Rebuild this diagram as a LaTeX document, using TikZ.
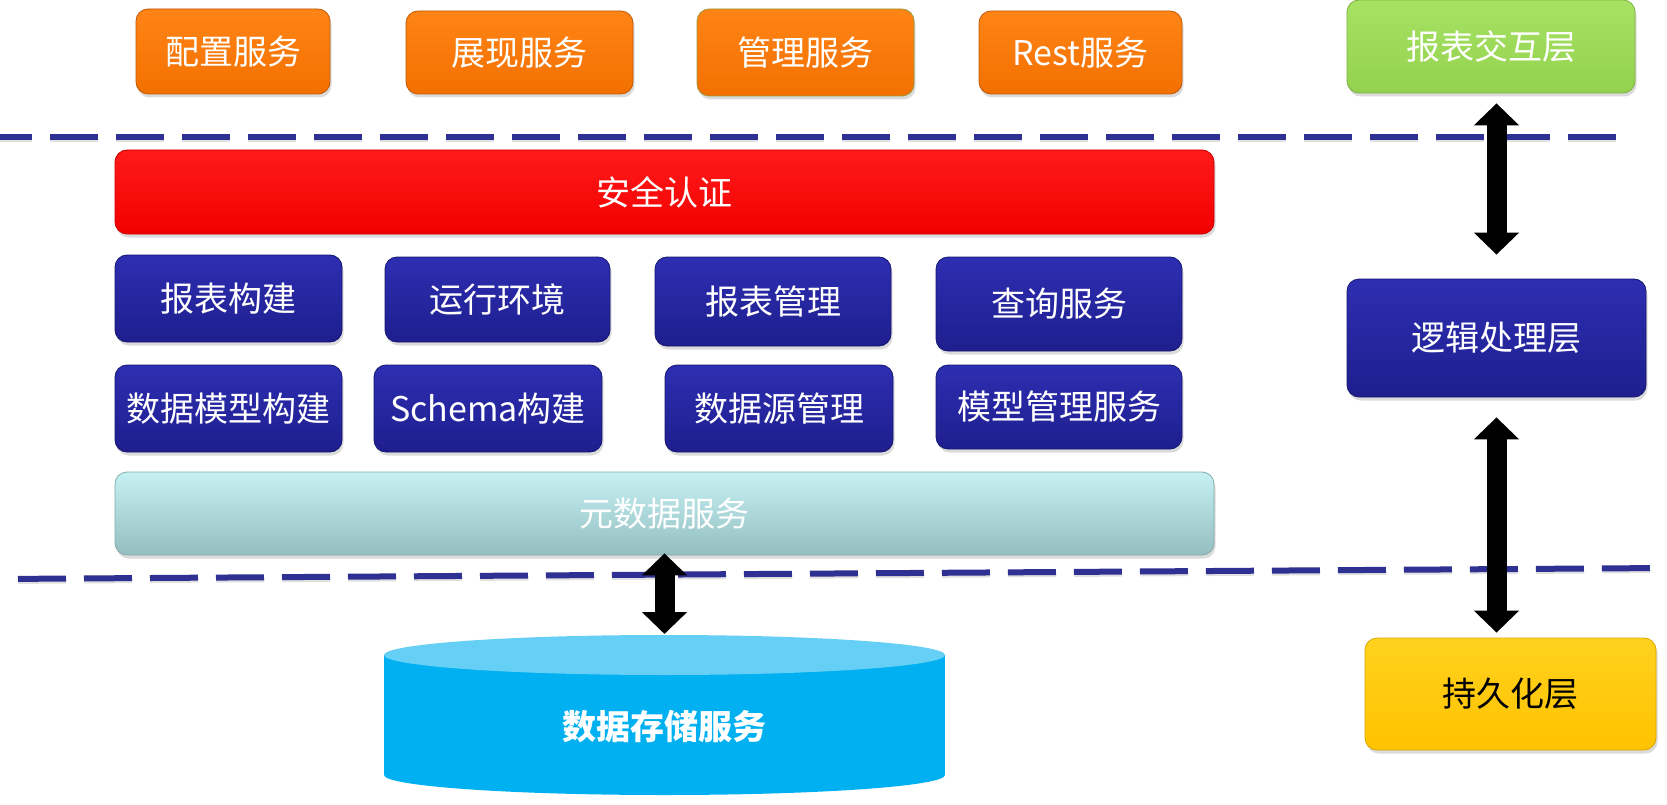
\documentclass[tikz,border=0pt]{standalone}
\usepackage{fontspec}
\setmainfont{Noto Sans CJK SC}
\usetikzlibrary{shadows,arrows.meta,calc}

\definecolor{orgT}{HTML}{FF8416}
\definecolor{orgB}{HTML}{F27000}
\definecolor{orgD}{HTML}{C05A08}
\definecolor{olvD}{HTML}{9C9A38}
\definecolor{redT}{HTML}{FF1A1A}
\definecolor{redB}{HTML}{F20000}
\definecolor{redD}{HTML}{C80000}
\definecolor{bluT}{HTML}{2E2EB2}
\definecolor{bluB}{HTML}{1E1E8E}
\definecolor{bluD}{HTML}{161670}
\definecolor{grnT}{HTML}{A8E264}
\definecolor{grnB}{HTML}{92D24E}
\definecolor{grnD}{HTML}{7BB23E}
\definecolor{cyaT}{HTML}{C6F1F4}
\definecolor{cyaB}{HTML}{94BEC0}
\definecolor{cyaD}{HTML}{84AAAC}
\definecolor{ylwT}{HTML}{FFD21E}
\definecolor{ylwB}{HTML}{FFC200}
\definecolor{ylwD}{HTML}{D8A600}
\definecolor{sepC}{HTML}{2E3192}
\definecolor{dbBody}{HTML}{00B0F0}
\definecolor{dbTop}{HTML}{66CFF5}

\tikzset{
  sz/.style 2 args={minimum width=#1pt, minimum height=#2pt},
  box/.style={rounded corners=12pt, draw, line width=0.8pt, text=white, inner sep=0pt,
    font=\fontsize{34}{40}\selectfont,
    drop shadow={shadow xshift=1.5pt, shadow yshift=-3.5pt, opacity=0.28}},
  orangebox/.style={box, top color=orgT, bottom color=orgB, draw=orgD},
  redbox/.style={box, top color=redT, bottom color=redB, draw=redD},
  bluebox/.style={box, top color=bluT, bottom color=bluB, draw=bluD},
  greenbox/.style={box, top color=grnT, bottom color=grnB, draw=grnD},
  cyanbox/.style={box, top color=cyaT, bottom color=cyaB, draw=cyaD},
  yellowbox/.style={box, top color=ylwT, bottom color=ylwB, draw=ylwD, text=black},
  sepline/.style={draw=sepC, line width=6pt, dash pattern=on 48pt off 18pt},
  sepshade/.style={draw=black, opacity=0.12, line width=6pt, dash pattern=on 48pt off 18pt},
  dblarrow/.style={line width=20pt, draw=black,
    {Triangle[length=22pt,width=44pt]}-{Triangle[length=22pt,width=44pt]}},
}

\begin{document}
\begin{tikzpicture}[x=1pt,y=-1pt]
\useasboundingbox[fill=white] (0,0) rectangle (1667,805);

% layer separators, each with a faint shadow just below
\coordinate (s1a) at (0,137);
\coordinate (s1b) at (1616,137);
\coordinate (s2a) at (0,579);
\coordinate (s2b) at (1667,568);
\draw[sepshade, dash phase=16pt] ([yshift=-2pt]s1a) -- ([yshift=-2pt]s1b);
\draw[sepshade, dash phase=48pt] ([yshift=-2pt]s2a) -- ([yshift=-2pt]s2b);
\draw[sepline, dash phase=16pt] (s1a) -- (s1b);
\draw[sepline, dash phase=48pt] (s2a) -- (s2b);

% service row
\node[orangebox, sz={194}{85}] (c1) at (233,51.5) {配置服务};
\node[orangebox, sz={227}{83}] (c2) at (519.5,52.5) {展现服务};
\node[orangebox, draw=olvD, sz={217}{87}] (c3) at (805.5,52.5) {管理服务};
\node[orangebox, sz={203}{83}] (c4) at (1080.5,52.5) {Rest服务};

% security
\node[redbox, sz={1099}{84}] (sec) at (664.5,192) {安全认证};

% logic modules
\node[bluebox, sz={227}{87}] (b11) at (228.5,298.5) {报表构建};
\node[bluebox, sz={225}{85}] (b12) at (497.5,299.5) {运行环境};
\node[bluebox, sz={236}{89}] (b13) at (773,301.5) {报表管理};
\node[bluebox, sz={246}{94}] (b14) at (1059,304) {查询服务};
\node[bluebox, sz={227}{87}] (b21) at (228.5,408.5) {数据模型构建};
\node[bluebox, sz={228}{87}] (b22) at (488,408.5) {Schema构建};
\node[bluebox, sz={228}{87}] (b23) at (779,408.5) {数据源管理};
\node[bluebox, sz={246}{84}] (b24) at (1059,407) {模型管理服务};

% metadata
\node[cyanbox, sz={1099}{83}] (meta) at (664.5,513.5) {元数据服务};

% data store cylinder
\fill[dbBody] (384,655) rectangle (945,775);
\fill[dbBody] (664.5,775) ellipse [x radius=280.5pt, y radius=20pt];
\fill[dbTop] (664.5,655) ellipse [x radius=280.5pt, y radius=20pt];
\coordinate (dbtop) at (664.5,634);
\node[text=white, font=\fontsize{34}{40}\selectfont\bfseries] (db) at (664.5,727) {数据存储服务};

% layer legend
\node[greenbox, sz={288}{93}] (l1) at (1491,46.5) {报表交互层};
\node[bluebox, sz={299}{118}] (l2) at (1496.5,338) {逻辑处理层};
\node[yellowbox, sz={291}{112}] (l3) at (1510.5,694) {持久化层};

% connectors
\draw[dblarrow, shorten <=-2pt] (meta.south) -- (dbtop);
\draw[dblarrow, shorten <=10pt, shorten >=24pt] (l1.south -| l2.center) -- (l2.north);
\draw[dblarrow, shorten <=20pt, shorten >=5pt] (l2.south) -- (l3.north -| l2.center);
\end{tikzpicture}
\end{document}
